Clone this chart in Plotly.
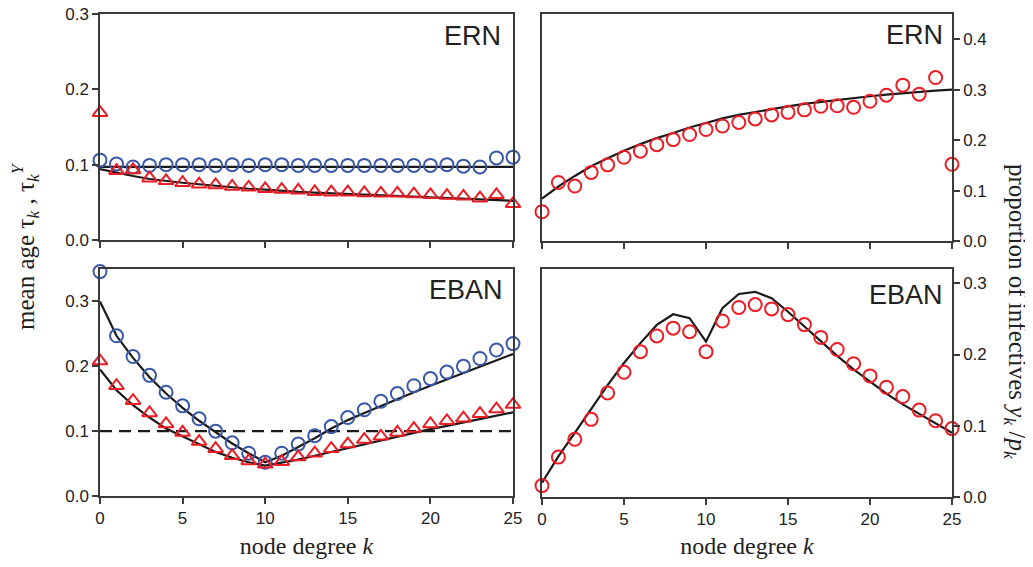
import plotly.graph_objects as go

k = list(range(26))

# ERN: mean ages
ern_tau = [0.106, 0.101, 0.097, 0.099, 0.100, 0.100, 0.100, 0.099, 0.100, 0.099, 0.100, 0.100, 0.099,
           0.099, 0.099, 0.099, 0.099, 0.099, 0.099, 0.099, 0.099, 0.100, 0.098, 0.097, 0.109, 0.110]
ern_tauY = [0.169, 0.092, 0.093, 0.082, 0.0785, 0.076, 0.074, 0.073, 0.071, 0.070, 0.068, 0.067, 0.066,
            0.064, 0.0635, 0.0635, 0.0625, 0.062, 0.062, 0.061, 0.060, 0.059, 0.058, 0.0555, 0.060, 0.048]
ern_tau_th = [0.097, 0.097, 0.097, 0.097, 0.097, 0.097, 0.097, 0.097, 0.097, 0.097, 0.097, 0.097, 0.097,
              0.097, 0.097, 0.097, 0.097, 0.097, 0.097, 0.097, 0.097, 0.097, 0.097, 0.097, 0.097, 0.097]
ern_tauY_th = [0.094, 0.089, 0.085, 0.081, 0.078, 0.076, 0.074, 0.072, 0.070, 0.068, 0.067, 0.065, 0.064,
               0.063, 0.062, 0.061, 0.060, 0.059, 0.058, 0.057, 0.056, 0.055, 0.054, 0.053, 0.053, 0.052]

# EBAN: mean ages
eban_tau = [0.346, 0.247, 0.215, 0.186, 0.160, 0.139, 0.119, 0.100, 0.082, 0.066, 0.052, 0.066, 0.080,
            0.093, 0.107, 0.121, 0.133, 0.146, 0.158, 0.170, 0.181, 0.191, 0.200, 0.212, 0.225, 0.235]
eban_tauY = [0.208, 0.170, 0.147, 0.128, 0.111, 0.098, 0.084, 0.073, 0.062, 0.054, 0.049, 0.053, 0.060,
             0.066, 0.073, 0.080, 0.087, 0.092, 0.098, 0.104, 0.111, 0.116, 0.120, 0.127, 0.134, 0.141]
eban_tau_th = [0.300, 0.247, 0.213, 0.183, 0.158, 0.136, 0.116, 0.098, 0.081, 0.066, 0.052, 0.062, 0.075,
               0.089, 0.104, 0.117, 0.128, 0.139, 0.150, 0.160, 0.170, 0.180, 0.190, 0.200, 0.210, 0.219]
eban_tauY_th = [0.195, 0.163, 0.140, 0.121, 0.104, 0.092, 0.079, 0.068, 0.059, 0.052, 0.047, 0.051, 0.056,
                0.062, 0.068, 0.074, 0.080, 0.086, 0.092, 0.098, 0.103, 0.108, 0.113, 0.118, 0.123, 0.129]
ref_k = [0, 25]
ref_level = [0.1, 0.1]

# proportion of infectives
ern_y = [0.058, 0.116, 0.109, 0.136, 0.151, 0.166, 0.178, 0.191, 0.201, 0.211, 0.221, 0.228, 0.235,
         0.242, 0.250, 0.255, 0.260, 0.267, 0.268, 0.265, 0.277, 0.289, 0.309, 0.291, 0.324, 0.152]
ern_y_th = [0.084, 0.108, 0.129, 0.148, 0.164, 0.179, 0.192, 0.204, 0.214, 0.225, 0.234, 0.243, 0.250,
            0.256, 0.261, 0.267, 0.272, 0.276, 0.280, 0.284, 0.287, 0.290, 0.293, 0.296, 0.298, 0.300]
eban_y = [0.016, 0.056, 0.081, 0.109, 0.146, 0.175, 0.204, 0.226, 0.237, 0.232, 0.204, 0.247, 0.266,
          0.270, 0.264, 0.256, 0.242, 0.224, 0.207, 0.187, 0.170, 0.154, 0.141, 0.122, 0.107, 0.096]
eban_y_th = [0.020, 0.057, 0.090, 0.123, 0.157, 0.188, 0.216, 0.2415, 0.2565, 0.251, 0.218, 0.265, 0.285,
             0.288, 0.279, 0.260, 0.239, 0.218, 0.198, 0.179, 0.162, 0.145, 0.130, 0.117, 0.104, 0.090]

BLUE = "#3a58a8"
RED = "#ec1c24"
LINE = "#1a1a1a"
AX = "#3a3a3a"
# page body has an 8px margin: the figure is drawn at (8, 8) in the window
OFF = 8
W, H = 1033 - OFF, 567 - 2 * OFF

fig = go.Figure()


def line(x, y, xa, ya, dash="solid"):
    fig.add_trace(go.Scatter(x=x, y=y, xaxis=xa, yaxis=ya, mode="lines",
                             line=dict(color=LINE, width=2.2, dash=dash), showlegend=False,
                             hoverinfo="skip"))


def pts(x, y, xa, ya, color, symbol):
    fig.add_trace(go.Scatter(x=x, y=y, xaxis=xa, yaxis=ya, mode="markers", cliponaxis=False,
                             marker=dict(symbol=symbol, size=13, color=color,
                                         line=dict(color=color, width=2)),
                             showlegend=False))


# top-left (x, y)
line(k, ern_tau_th, "x", "y")
line(k, ern_tauY_th, "x", "y")
pts(k, ern_tau, "x", "y", BLUE, "circle-open")
pts(k, ern_tauY, "x", "y", RED, "triangle-up-open")
# bottom-left (x2, y2)
line(ref_k, ref_level, "x2", "y2", dash="12px,7px")
line(k, eban_tau_th, "x2", "y2")
line(k, eban_tauY_th, "x2", "y2")
pts(k, eban_tau, "x2", "y2", BLUE, "circle-open")
pts(k, eban_tauY, "x2", "y2", RED, "triangle-up-open")
# top-right (x3, y3)
line(k, ern_y_th, "x3", "y3")
pts(k, ern_y, "x3", "y3", RED, "circle-open")
# bottom-right (x4, y4)
line(k, eban_y_th, "x4", "y4")
pts(k, eban_y, "x4", "y4", RED, "circle-open")


def px_x(a, b):
    return [(a - OFF) / W, (b - OFF) / W]


def px_y(top, bottom):
    return [1 - (bottom - OFF) / H, 1 - (top - OFF) / H]


def pxx(a):
    return (a - OFF) / W


def pxy(a):
    return 1 - (a - OFF) / H


tickfont = dict(family="Liberation Sans, Arial, sans-serif", size=17, color="#222")
titlefont = dict(family="Liberation Serif, Times New Roman, serif", size=24, color="#222")

common = dict(showline=True, linecolor=AX, linewidth=1.5, mirror=True, ticks="outside",
              ticklen=6, tickwidth=1.5, tickcolor=AX, showgrid=False, zeroline=False,
              tickfont=tickfont, automargin=False, ticklabeloverflow="allow")

xcommon = dict(common, range=[0, 25], tickvals=[0, 5, 10, 15, 20, 25])

fig.update_layout(
    width=W, height=H,
    margin=dict(l=0, r=0, t=0, b=0, autoexpand=False),
    paper_bgcolor="white", plot_bgcolor="white",
    xaxis=dict(xcommon, domain=px_x(100, 513), anchor="y", showticklabels=False),
    yaxis=dict(common, domain=px_y(14, 240), anchor="x", range=[0, 0.3],
               tickvals=[0, 0.1, 0.2, 0.3], tickformat=".1f"),
    xaxis2=dict(xcommon, domain=px_x(100, 513), anchor="y2",
                title=dict(text="node degree <i>k</i>", font=titlefont, standoff=12)),
    yaxis2=dict(common, domain=px_y(269, 496), anchor="x2", range=[0, 0.35],
                tickvals=[0, 0.1, 0.2, 0.3], tickformat=".1f"),
    xaxis3=dict(xcommon, domain=px_x(542, 952), anchor="y3", showticklabels=False),
    yaxis3=dict(common, domain=px_y(14, 241), anchor="x3", side="right", range=[0, 0.45],
                tickvals=[0, 0.1, 0.2, 0.3, 0.4], tickformat=".1f"),
    xaxis4=dict(xcommon, domain=px_x(542, 952), anchor="y4",
                title=dict(text="node degree <i>k</i>", font=titlefont, standoff=12)),
    yaxis4=dict(common, domain=px_y(269, 497), anchor="x4", side="right", range=[0, 0.32],
                tickvals=[0, 0.1, 0.2, 0.3], tickformat=".1f"),
)

labfont = dict(family="Liberation Sans, Arial, sans-serif", size=27, color="#222")
ann = [
    dict(text="ERN", xref="x domain", yref="y domain", x=0.976, y=0.903),
    dict(text="EBAN", xref="x2 domain", yref="y2 domain", x=0.98, y=0.907),
    dict(text="ERN", xref="x3 domain", yref="y3 domain", x=0.983, y=0.907),
    dict(text="EBAN", xref="x4 domain", yref="y4 domain", x=0.983, y=0.886),
]
for a in ann:
    fig.add_annotation(showarrow=False, xanchor="right", yanchor="middle", font=labfont, **a)

fig.add_annotation(text="mean age τ<sub><i>k</i></sub> , τ<sub><i>k</i></sub><sup><i>Y</i></sup>",
                   xref="paper", yref="paper", x=pxx(25), y=pxy(246), textangle=-90,
                   showarrow=False, xanchor="center", yanchor="middle",
                   font=dict(family="Liberation Serif, Times New Roman, serif", size=25, color="#222"))
fig.add_annotation(text="proportion of infectives <i>y</i><sub><i>k</i></sub> /<i>p</i><sub><i>k</i></sub>",
                   xref="paper", yref="paper", x=pxx(1016), y=pxy(312), textangle=90,
                   showarrow=False, xanchor="center", yanchor="middle",
                   font=dict(family="Liberation Serif, Times New Roman, serif", size=25, color="#222"))

fig.write_html("out.html")
